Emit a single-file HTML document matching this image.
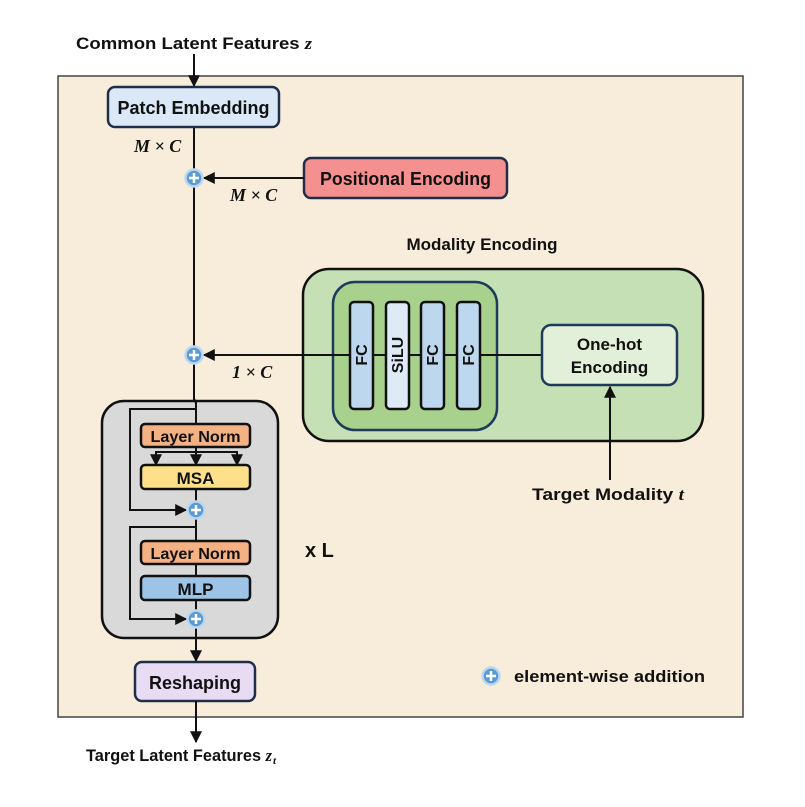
<!DOCTYPE html>
<html><head><meta charset="utf-8"><style>
html,body{margin:0;padding:0;background:#fff}
svg{display:block}
text{font-family:"Liberation Sans",sans-serif;font-weight:bold;fill:#111}
.m{font-family:"Liberation Serif",serif;font-style:italic;font-weight:bold}
</style></head><body>
<svg width="805" height="807" viewBox="0 0 805 807" xmlns="http://www.w3.org/2000/svg">
<defs>
<marker id="a" viewBox="0 0 10 10" refX="9" refY="5" markerWidth="6" markerHeight="6" orient="auto"><path d="M0,0L10,5L0,10z" fill="#111"/></marker>
<g id="p"><circle r="8.5" fill="#5b9bd5" stroke="#bcd7ee" stroke-width="2.5"/><path d="M-5,0H5M0,-5V5" stroke="#fff" stroke-width="2.5"/></g>
</defs>
<text x="76" y="49" font-size="17" textLength="236" lengthAdjust="spacingAndGlyphs">Common Latent Features <tspan class="m">z</tspan></text>
<rect x="58" y="76" width="685" height="641" fill="#f8eddb" stroke="#444" stroke-width="1.5"/>
<line x1="194" y1="54" x2="194" y2="86" stroke="#111" stroke-width="2" marker-end="url(#a)"/>
<line x1="194" y1="127" x2="194" y2="401" stroke="#111" stroke-width="2"/>
<rect x="108" y="87" width="171" height="40" rx="7" fill="#dae8f7" stroke="#1f2f4a" stroke-width="2.5"/>
<text x="193.5" y="114" font-size="18" text-anchor="middle" textLength="152" lengthAdjust="spacingAndGlyphs">Patch Embedding</text>
<text x="134" y="152" font-size="18" class="m">M × C</text>
<rect x="304" y="158" width="203" height="40" rx="7" fill="#f4908f" stroke="#1f2f4a" stroke-width="2.5"/>
<text x="405.5" y="185" font-size="18" text-anchor="middle" textLength="171" lengthAdjust="spacingAndGlyphs">Positional Encoding</text>
<line x1="304" y1="178" x2="204" y2="178" stroke="#111" stroke-width="2" marker-end="url(#a)"/>
<use href="#p" x="194" y="178"/>
<text x="230" y="201" font-size="18" class="m">M × C</text>
<text x="482" y="250" font-size="17" text-anchor="middle">Modality Encoding</text>
<rect x="303" y="269" width="400" height="172" rx="26" fill="#c5e0b4" stroke="#111" stroke-width="2.5"/>
<rect x="333" y="282" width="164" height="148" rx="22" fill="#a9d18e" stroke="#1f3a5a" stroke-width="2.5"/>
<line x1="204" y1="355" x2="542" y2="355" stroke="#111" stroke-width="2"/>
<line x1="350" y1="355" x2="204" y2="355" stroke="#111" stroke-width="2" marker-end="url(#a)"/>
<g stroke="#111" stroke-width="2.5">
<rect x="350" y="302" width="23" height="107" rx="4" fill="#bdd7ee"/>
<rect x="386" y="302" width="23" height="107" rx="4" fill="#deebf7"/>
<rect x="421" y="302" width="23" height="107" rx="4" fill="#bdd7ee"/>
<rect x="457" y="302" width="23" height="107" rx="4" fill="#bdd7ee"/>
</g>
<g font-size="16">
<text transform="translate(367,355) rotate(-90)" text-anchor="middle">FC</text>
<text transform="translate(403,355) rotate(-90)" text-anchor="middle">SiLU</text>
<text transform="translate(438,355) rotate(-90)" text-anchor="middle">FC</text>
<text transform="translate(474,355) rotate(-90)" text-anchor="middle">FC</text>
</g>
<rect x="542" y="325" width="135" height="60" rx="9" fill="#e2f0d9" stroke="#1f3a5a" stroke-width="2.5"/>
<text x="609.5" y="350" font-size="17" text-anchor="middle">One-hot</text>
<text x="609.5" y="373" font-size="17" text-anchor="middle">Encoding</text>
<line x1="610" y1="480" x2="610" y2="387" stroke="#111" stroke-width="2" marker-end="url(#a)"/>
<text x="532" y="500" font-size="17" textLength="152" lengthAdjust="spacingAndGlyphs">Target Modality <tspan class="m">t</tspan></text>
<use href="#p" x="194" y="355"/>
<text x="232" y="378" font-size="18" class="m">1 × C</text>
<rect x="102" y="401" width="176" height="237" rx="22" fill="#d9d9d9" stroke="#111" stroke-width="2.5"/>
<line x1="196" y1="401" x2="196" y2="638" stroke="#111" stroke-width="2"/>
<line x1="194" y1="399" x2="196" y2="403" stroke="#111" stroke-width="2"/>
<polyline points="196,409 130,409 130,510 186,510" fill="none" stroke="#111" stroke-width="2" marker-end="url(#a)"/>
<polyline points="196,527 130,527 130,619 186,619" fill="none" stroke="#111" stroke-width="2" marker-end="url(#a)"/>
<polyline points="156,462 156,452 237,452 237,462" fill="none" stroke="#111" stroke-width="2"/>
<line x1="156" y1="452" x2="156" y2="465" stroke="#111" stroke-width="2" marker-end="url(#a)"/>
<line x1="237" y1="452" x2="237" y2="465" stroke="#111" stroke-width="2" marker-end="url(#a)"/>
<line x1="196" y1="452" x2="196" y2="465" stroke="#111" stroke-width="2" marker-end="url(#a)"/>
<rect x="141" y="424" width="109" height="23" rx="4" fill="#f4b183" stroke="#111" stroke-width="2.5"/>
<text x="195.5" y="442" font-size="16" text-anchor="middle" textLength="90" lengthAdjust="spacingAndGlyphs">Layer Norm</text>
<rect x="141" y="465" width="109" height="24" rx="4" fill="#ffe08a" stroke="#111" stroke-width="2.5"/>
<text x="195.5" y="484" font-size="17" text-anchor="middle">MSA</text>
<use href="#p" x="196" y="510"/>
<rect x="141" y="541" width="109" height="23" rx="4" fill="#f4b183" stroke="#111" stroke-width="2.5"/>
<text x="195.5" y="559" font-size="16" text-anchor="middle" textLength="90" lengthAdjust="spacingAndGlyphs">Layer Norm</text>
<rect x="141" y="576" width="109" height="24" rx="4" fill="#9dc3e6" stroke="#111" stroke-width="2.5"/>
<text x="195.5" y="595" font-size="17" text-anchor="middle">MLP</text>
<use href="#p" x="196" y="619"/>
<line x1="196" y1="638" x2="196" y2="661" stroke="#111" stroke-width="2" marker-end="url(#a)"/>
<text x="305" y="557" font-size="20">x L</text>
<rect x="135" y="662" width="120" height="39" rx="7" fill="#e8dcf4" stroke="#1f2f4a" stroke-width="2.5"/>
<text x="195" y="689" font-size="18" text-anchor="middle">Reshaping</text>
<line x1="196" y1="701" x2="196" y2="742" stroke="#111" stroke-width="2" marker-end="url(#a)"/>
<text x="86" y="761" font-size="17" textLength="186" lengthAdjust="spacingAndGlyphs">Target Latent Features <tspan class="m">z</tspan></text>
<text x="273" y="764" font-size="11" class="m">t</text>
<use href="#p" x="491" y="676"/>
<text x="514" y="682" font-size="17" textLength="191" lengthAdjust="spacingAndGlyphs">element-wise addition</text>
</svg>
</body></html>
